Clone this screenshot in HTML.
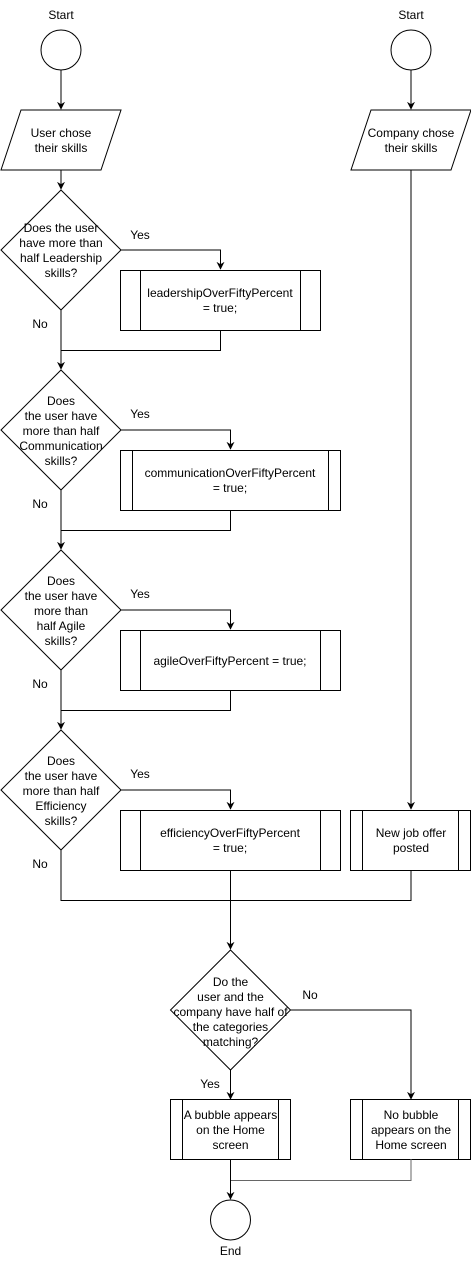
<!DOCTYPE html>
<html><head><meta charset="utf-8"><style>
html,body{margin:0;padding:0;background:#fff;}
svg{display:block;font-family:"Liberation Sans",Arial,sans-serif;font-size:12px;}
</style></head><body>
<svg width="471" height="1270" viewBox="0 0 471 1270" xmlns="http://www.w3.org/2000/svg">
<defs><marker id="a" markerWidth="8" markerHeight="8" refX="4" refY="7" orient="auto" markerUnits="userSpaceOnUse"><path d="M0,0 L4,8 L8,0 L4,3 Z" fill="#000" transform="rotate(-90 4 4) rotate(90 4 4)"/></marker>
<marker id="b" viewBox="0 0 10 10" refX="9" refY="5" markerWidth="8" markerHeight="8" orient="auto" markerUnits="userSpaceOnUse"><path d="M0,0 L10,5 L0,10 L3,5 Z" fill="#000"/></marker></defs>
<g fill="none" stroke="#000" stroke-width="1">
<!-- left start -->
<circle cx="61" cy="50" r="20" fill="#fff"/>
<line x1="61" y1="70" x2="61" y2="109" marker-end="url(#b)"/>
<polygon points="21,110 121,110 101,170 1,170" fill="#fff"/>
<line x1="61" y1="170" x2="61" y2="189" marker-end="url(#b)"/>
<!-- right start -->
<circle cx="411" cy="50" r="20" fill="#fff"/>
<line x1="411" y1="70" x2="411" y2="109" marker-end="url(#b)"/>
<polygon points="371,110 471,110 451,170 351,170" fill="#fff"/>
<line x1="411" y1="170" x2="411" y2="809" marker-end="url(#b)"/>
<rect x="350.5" y="810.5" width="120" height="60" fill="#fff"/>
<line x1="362.5" y1="810" x2="362.5" y2="870"/><line x1="458.5" y1="810" x2="458.5" y2="870"/>

<!-- decision 1 -->
<polygon points="61,190 121,250 61,310 1,250" fill="#fff"/>
<polyline points="121,250 220.5,250 220.5,269" marker-end="url(#b)"/>
<rect x="120.5" y="270.5" width="200" height="60" fill="#fff"/>
<line x1="140.5" y1="270" x2="140.5" y2="330"/><line x1="300.5" y1="270" x2="300.5" y2="330"/>
<polyline points="220.5,330 220.5,350.5 61,350.5"/>
<line x1="61" y1="310" x2="61" y2="369" marker-end="url(#b)"/>

<!-- decision 2 -->
<polygon points="61,370 121,430 61,490 1,430" fill="#fff"/>
<polyline points="121,430 230.5,430 230.5,449" marker-end="url(#b)"/>
<rect x="120.5" y="450.5" width="220" height="60" fill="#fff"/>
<line x1="132.5" y1="450" x2="132.5" y2="510"/><line x1="328.5" y1="450" x2="328.5" y2="510"/>
<polyline points="230.5,510 230.5,530.5 61,530.5"/>
<line x1="61" y1="490" x2="61" y2="549" marker-end="url(#b)"/>

<!-- decision 3 -->
<polygon points="61,550 121,610 61,670 1,610" fill="#fff"/>
<polyline points="121,610 230.5,610 230.5,629" marker-end="url(#b)"/>
<rect x="120.5" y="630.5" width="220" height="60" fill="#fff"/>
<line x1="140.5" y1="630" x2="140.5" y2="690"/><line x1="320.5" y1="630" x2="320.5" y2="690"/>
<polyline points="230.5,690 230.5,710.5 61,710.5"/>
<line x1="61" y1="670" x2="61" y2="729" marker-end="url(#b)"/>

<!-- decision 4 -->
<polygon points="61,730 121,790 61,850 1,790" fill="#fff"/>
<polyline points="121,790 230.5,790 230.5,809" marker-end="url(#b)"/>
<rect x="120.5" y="810.5" width="220" height="60" fill="#fff"/>
<line x1="140.5" y1="810" x2="140.5" y2="870"/><line x1="320.5" y1="810" x2="320.5" y2="870"/>
<polyline points="61,850 61,900.5 411,900.5 411,870"/>
<line x1="230.5" y1="870" x2="230.5" y2="949" marker-end="url(#b)"/>

<!-- decision 5 -->
<polygon points="230.5,950 290.5,1010 230.5,1070 170.5,1010" fill="#fff"/>
<polyline points="290.5,1010 411,1010 411,1099" marker-end="url(#b)"/>
<line x1="230.5" y1="1070" x2="230.5" y2="1099" marker-end="url(#b)"/>
<rect x="170.5" y="1099.5" width="120" height="60" fill="#fff"/>
<line x1="182.5" y1="1099" x2="182.5" y2="1159"/><line x1="278.5" y1="1099" x2="278.5" y2="1159"/>
<rect x="350.5" y="1099.5" width="120" height="60" fill="#fff"/>
<line x1="362.5" y1="1099" x2="362.5" y2="1159"/><line x1="458.5" y1="1099" x2="458.5" y2="1159"/>
<polyline points="411,1159 411,1180.5 230.5,1180.5" stroke="#666"/>
<line x1="230.5" y1="1159" x2="230.5" y2="1199" marker-end="url(#b)"/>
<circle cx="230.5" cy="1220" r="20" fill="#fff"/>
</g>
<g fill="#000" text-anchor="middle">
<text x="61" y="19">Start</text>
<text x="411" y="19">Start</text>
<text x="61" y="137">User chose</text><text x="61" y="152">their skills</text>
<text x="411" y="137">Company chose</text><text x="411" y="152">their skills</text>
<text x="61" y="232">Does the user</text><text x="61" y="247">have more than</text><text x="61" y="262">half Leadership</text><text x="61" y="277">skills?</text>
<text x="140" y="239">Yes</text><text x="40" y="328">No</text>
<text x="220" y="297">leadershipOverFiftyPercent</text><text x="220" y="312">= true;</text>
<text x="61" y="405">Does</text><text x="61" y="420">the user have</text><text x="61" y="435">more than half</text><text x="61" y="450">Communication</text><text x="61" y="465">skills?</text>
<text x="140" y="418">Yes</text><text x="40" y="508">No</text>
<text x="230" y="477">communicationOverFiftyPercent</text><text x="230" y="492">= true;</text>
<text x="61" y="585">Does</text><text x="61" y="600">the user have</text><text x="61" y="615">more than</text><text x="61" y="630">half Agile</text><text x="61" y="645">skills?</text>
<text x="140" y="598">Yes</text><text x="40" y="688">No</text>
<text x="230" y="665">agileOverFiftyPercent = true;</text>
<text x="61" y="765">Does</text><text x="61" y="780">the user have</text><text x="61" y="795">more than half</text><text x="61" y="810">Efficiency</text><text x="61" y="825">skills?</text>
<text x="140" y="778">Yes</text><text x="40" y="868">No</text>
<text x="230" y="837">efficiencyOverFiftyPercent</text><text x="230" y="852">= true;</text>
<text x="411" y="837">New job offer</text><text x="411" y="852">posted</text>
<text x="230.5" y="986">Do the</text><text x="230.5" y="1001">user and the</text><text x="230.5" y="1016">company have half of</text><text x="230.5" y="1031">the categories</text><text x="230.5" y="1046">matching?</text>
<text x="310" y="999">No</text><text x="210" y="1088">Yes</text>
<text x="230.5" y="1119">A bubble appears</text><text x="230.5" y="1134">on the Home</text><text x="230.5" y="1149">screen</text>
<text x="411" y="1119">No bubble</text><text x="411" y="1134">appears on the</text><text x="411" y="1149">Home screen</text>
<text x="230.5" y="1255">End</text>
</g>
</svg>
</body></html>
